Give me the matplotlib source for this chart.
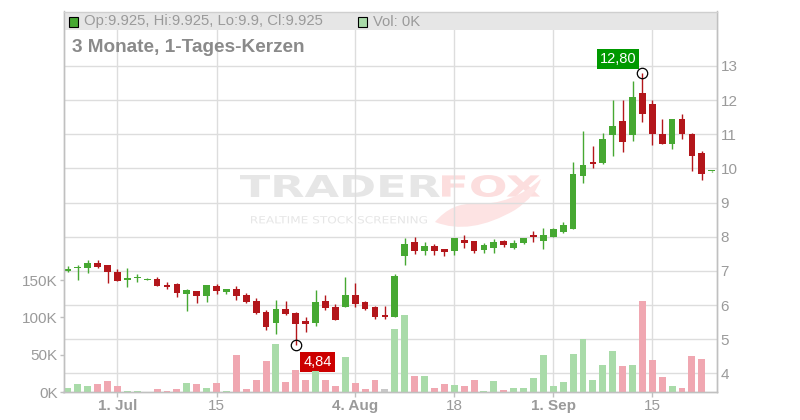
import matplotlib
matplotlib.use("Agg")
import matplotlib.pyplot as plt
import numpy as np
import pandas as pd
from matplotlib.patches import Rectangle, PathPatch
from matplotlib.textpath import TextPath
from matplotlib.font_manager import FontProperties
from matplotlib.transforms import Affine2D, IdentityTransform
from matplotlib.path import Path

plt.rcParams["font.family"] = ["Liberation Sans", "DejaVu Sans"]

# ---------- Daten (3 Monate, Tageskerzen) ----------
dates = pd.bdate_range("2025-06-24", "2025-09-23")

opens = [7.00, 7.09, 7.09, 7.23, 7.17, 6.97, 6.74, 6.80, 6.72, 6.76,
         6.59, 6.62, 6.33, 6.41, 6.27, 6.56, 6.39, 6.47, 6.29, 6.12,
         5.80, 5.48, 5.88, 5.77, 5.53, 5.48, 6.12, 5.94, 5.95, 6.29,
         6.09, 5.94, 5.72, 5.66, 7.44, 7.85, 7.59, 7.74, 7.64, 7.59,
         7.90, 7.88, 7.62, 7.68, 7.88, 7.68, 7.83, 8.05, 7.88, 8.00,
         8.15, 8.24, 9.79, 10.19, 10.16, 10.99, 11.39, 10.99, 12.21, 11.89,
         11.01, 10.73, 11.45, 11.02, 10.45, 9.925]
highs = [7.14, 7.18, 7.32, 7.32, 7.17, 7.05, 7.08, 6.91, 6.79, 6.82,
         6.67, 6.65, 6.48, 6.41, 6.59, 6.62, 6.47, 6.56, 6.35, 6.21,
         5.85, 6.15, 6.12, 5.80, 5.65, 6.44, 6.29, 6.03, 6.82, 6.64,
         6.12, 5.97, 5.97, 6.91, 7.96, 8.00, 7.85, 7.79, 7.65, 7.96,
         8.05, 7.88, 7.83, 7.93, 7.90, 7.90, 7.97, 8.17, 8.26, 8.26,
         8.43, 10.19, 11.11, 10.66, 11.04, 12.00, 12.00, 12.56, 12.80, 12.00,
         11.45, 11.45, 11.60, 11.04, 10.51, 9.925]
lows = [6.98, 6.73, 6.95, 7.09, 6.64, 6.71, 6.54, 6.68, 6.72, 6.56,
        6.48, 6.24, 5.83, 6.07, 6.10, 6.31, 6.31, 6.16, 6.07, 5.75,
        5.28, 5.16, 5.71, 4.84, 5.22, 5.39, 5.85, 5.57, 5.95, 5.95,
        5.85, 5.60, 5.59, 5.66, 7.18, 7.49, 7.47, 7.47, 7.44, 7.47,
        7.68, 7.53, 7.53, 7.53, 7.71, 7.65, 7.80, 7.85, 7.65, 8.00,
        8.11, 8.24, 9.58, 10.02, 10.13, 10.37, 10.48, 10.79, 11.37, 10.70,
        10.73, 10.58, 10.87, 9.91, 9.67, 9.90]
closes = [7.05, 7.11, 7.23, 7.12, 6.98, 6.71, 6.79, 6.82, 6.74, 6.57,
          6.53, 6.36, 6.44, 6.27, 6.59, 6.42, 6.47, 6.27, 6.10, 5.78,
          5.37, 5.88, 5.75, 5.45, 5.44, 6.09, 5.91, 5.57, 6.29, 6.04,
          5.88, 5.66, 5.66, 6.85, 7.79, 7.59, 7.74, 7.59, 7.56, 7.96,
          7.83, 7.59, 7.76, 7.85, 7.76, 7.82, 7.97, 8.00, 8.05, 8.23,
          8.34, 9.84, 10.10, 10.13, 10.86, 11.25, 10.78, 12.09, 11.58, 11.02,
          10.73, 11.45, 11.02, 10.37, 9.85, 9.925]
volumes = [6000, 11000, 7500, 11000, 15000, 8500, 2000, 2000, 0, 3500,
           2000, 4500, 12500, 11000, 6000, 12500, 2000, 49000, 3500, 16500,
           41000, 64000, 14000, 29000, 16500, 27500, 16500, 7500, 47500, 11500,
           3500, 15500, 3500, 84000, 103000, 22000, 21000, 6000, 11000, 9500,
           8000, 16000, 1000, 14500, 2700, 5400, 5400, 19000, 50000, 8000,
           13500, 51000, 70500, 16000, 36000, 55000, 35000, 36000, 122000, 43000,
           20000, 8000, 5400, 48000, 44000, 0]

tick_dates = ["2025-07-01", "2025-07-15", "2025-08-04", "2025-08-18", "2025-09-01", "2025-09-15"]
tick_labels = ["1. Jul", "15", "4. Aug", "18", "1. Sep", "15"]
price_ticks = [4, 5, 6, 7, 8, 9, 10, 11, 12, 13]
vol_ticks = [0, 50000, 100000, 150000]

# ---------- Farben ----------
GREEN, RED = "#46a832", "#b3161b"
VGREEN, VRED, VGRAY = "#a9dba9", "#f0a7b1", "#c8c8c8"
GRID, AXIS, TXT = "#dddddd", "#c0c0c0", "#9a9a9a"

W, H = 800, 420
fig = plt.figure(figsize=(W / 100, H / 100), dpi=100)
L, R, T, B = 63.5, 716.5, 11.5, 392.0
ax_p = fig.add_axes([L / W, (H - B) / H, (R - L) / W, (B - T) / H])
ax_v = ax_p.twinx()
ax_p.set_zorder(0)
ax_v.set_zorder(1)
ax_v.patch.set_visible(False)

x = np.arange(len(closes))
o, h, l, c = map(np.array, (opens, highs, lows, closes))
v = np.array(volumes)


def px(xp, yp):
    return xp, H - yp


# ---------- Wasserzeichen ----------
def fit_text(s, box, color, weight="bold"):
    tp = TextPath((0, 0), s, size=100, prop=FontProperties(family="DejaVu Sans", weight=weight))
    ext = tp.get_extents()
    x0, x1, ytop, ybot = box
    tr = (Affine2D().translate(-ext.x0, -ext.y0)
          .scale((x1 - x0) / ext.width, (ybot - ytop) / ext.height)
          .translate(x0, H - ybot))
    patch = PathPatch(tr.transform_path(tp), facecolor=color, edgecolor="none",
                      transform=IdentityTransform(), zorder=0.1, clip_on=False)
    ax_p.add_artist(patch)


fit_text("TRADER", (240, 440, 175, 197), "#e6e6e6")
fit_text("FOX", (442, 540, 175, 197), "#fcdede")
fit_text("REALTIME STOCK SCREENING", (251, 427, 216, 223.5), "#e6e6e6", weight="normal")
verts = [px(435, 222), px(470, 236), px(515, 210), px(536, 196), px(541, 179),
         px(512, 205), px(475, 204), px(452, 202), px(435, 222)]
codes = [Path.MOVETO, Path.CURVE3, Path.CURVE3, Path.CURVE3, Path.CURVE3,
         Path.CURVE3, Path.CURVE3, Path.CURVE3, Path.CURVE3]
ax_p.add_artist(PathPatch(Path(verts, codes), facecolor="#fde3e3", edgecolor="none",
                          transform=IdentityTransform(), zorder=0.1, clip_on=False))

# ---------- Raster ----------
ax_p.set_axisbelow(True)
ax_p.grid(True, color=GRID, linewidth=1)

# ---------- Kerzen ----------
up = c >= o
cols = np.where(up, GREEN, RED)
ax_p.vlines(x, l, h, colors=cols, linewidth=1, zorder=2)
body = np.maximum(np.abs(c - o), 0.03)
ax_p.bar(x, body, bottom=np.minimum(o, c), width=0.68, color=cols, zorder=3)

# ---------- Volumen ----------
diff = np.diff(c, prepend=c[0] - (1 if up[0] else -1))
vcols = np.where(diff > 0, VGREEN, np.where(diff < 0, VRED, VGRAY))
ax_v.bar(x, v, width=0.7, color=vcols, zorder=1)

# ---------- Hoch / Tief ----------
i_hi = int(np.argmax(h))
i_lo = int(np.argmin(l))
for i, val in ((i_hi, h[i_hi]), (i_lo, l[i_lo])):
    ax_p.plot(x[i], val, "o", ms=7.5, mfc="none", mec="black", mew=0.9, zorder=5)
ax_p.annotate(f"{h[i_hi]:.2f}".replace(".", ","), (x[i_hi], h[i_hi]), xytext=(-4.5, 5),
              textcoords="offset points", ha="right", va="bottom", color="white", fontsize=10.5,
              bbox=dict(boxstyle="square,pad=0.2", fc="#009900", ec="none"), zorder=6)
ax_p.annotate(f"{l[i_lo]:.2f}".replace(".", ","), (x[i_lo], l[i_lo]), xytext=(5.5, -7.5),
              textcoords="offset points", ha="left", va="top", color="white", fontsize=10.5,
              bbox=dict(boxstyle="square,pad=0.2", fc="#cc0000", ec="none"), zorder=6)

# ---------- Achsen ----------
ax_p.set_xlim(-0.45, len(x) - 0.52)
ax_p.set_ylim(3.452, 14.596)
ax_v.set_ylim(0, 510000)

ax_p.yaxis.tick_right()
ax_p.set_yticks(price_ticks)
ax_p.set_yticklabels([str(t) for t in price_ticks])
ax_p.tick_params(axis="y", length=0, pad=3, labelsize=11, labelcolor=TXT)

ax_v.yaxis.tick_left()
ax_v.set_yticks(vol_ticks)
ax_v.set_yticklabels([f"{t // 1000}K" for t in vol_ticks])
ax_v.tick_params(axis="y", length=3, width=1, color=AXIS, pad=1, labelsize=11, labelcolor=TXT)

tick_pos = [dates.get_loc(pd.Timestamp(d)) for d in tick_dates]
ax_p.set_xticks(tick_pos)
ax_p.set_xticklabels(tick_labels)
ax_p.tick_params(axis="x", length=3.6, width=1, color=AXIS, pad=1.5, labelsize=11, labelcolor=TXT)
for lab in ax_p.get_xticklabels():
    if ". " in lab.get_text():
        lab.set_fontweight("bold")

for a in (ax_p, ax_v):
    a.spines["top"].set_visible(False)
    for s in ("left", "right", "bottom"):
        a.spines[s].set_color(AXIS)
        a.spines[s].set_linewidth(1)

# ---------- Legendenleiste & Titel ----------
bx0, by0 = px(L, 30)
fig.patches.append(Rectangle((bx0, by0), R - L, 30 - T, transform=IdentityTransform(),
                             facecolor="#e6e6e6", edgecolor="none", zorder=0.5))
fig.add_artist(plt.Line2D([L, R], [H - T, H - T], transform=IdentityTransform(),
                          color="#cfcfcf", linewidth=1, zorder=3))
sq0 = px(68.5, 26.5)
fig.patches.append(Rectangle(sq0, 9.5, 9.5, transform=IdentityTransform(),
                             facecolor=GREEN, edgecolor="black", linewidth=0.8, zorder=3))
sq1 = px(357.5, 26.5)
fig.patches.append(Rectangle(sq1, 9.5, 9.5, transform=IdentityTransform(),
                             facecolor=VGREEN if vcols[-1] == VGREEN else VRED,
                             edgecolor="black", linewidth=0.8, zorder=3))
fig.text(84 / W, 1 - 21.5 / H,
         f"Op:{opens[-1]}, Hi:{highs[-1]}, Lo:{lows[-1]}, Cl:{closes[-1]}",
         fontsize=10.7, color=TXT, va="center", ha="left", zorder=3)
fig.text(373 / W, 1 - 21.5 / H, f"Vol: {volumes[-1] // 1000}K",
         fontsize=10.7, color=TXT, va="center", ha="left", zorder=3)
fig.text(72 / W, 1 - 47 / H, "3 Monate, 1-Tages-Kerzen", fontsize=13.7, fontweight="bold",
         color="#8a8a8a", va="center", ha="left", zorder=3)

fig.savefig("out.png", dpi=100)
